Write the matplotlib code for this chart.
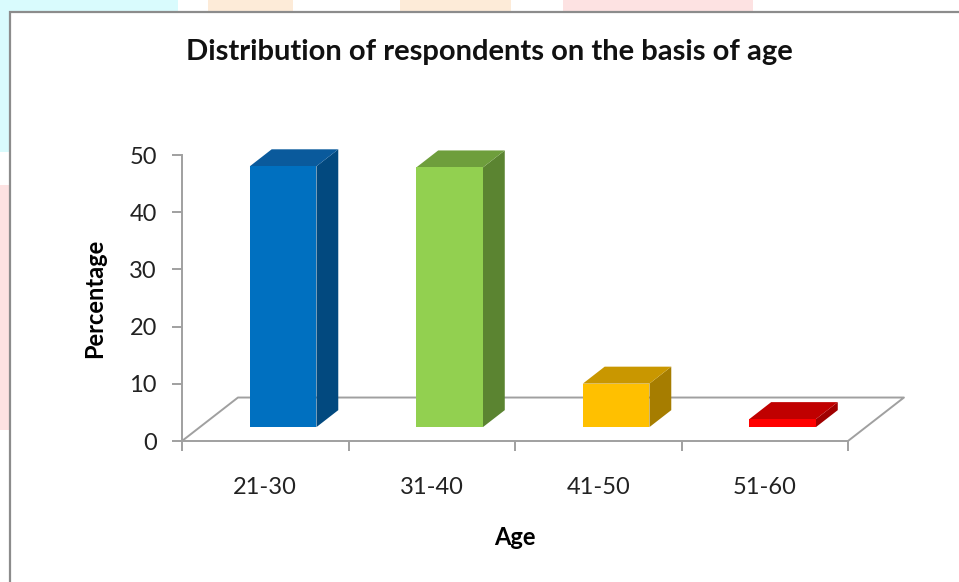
import matplotlib.pyplot as plt
from matplotlib.patches import Polygon, Rectangle

# Age groups and share of respondents (%)
age_groups = ['21-30', '31-40', '41-50', '51-60']
percent = [45.6, 45.4, 7.6, 1.4]

# face colours: front, top, side
front_colors = ['#0070c0', '#92d050', '#ffc000', '#ff0000']
top_colors = ['#0a5a9c', '#6e9e3c', '#c99700', '#c00000']
side_colors = ['#02497f', '#5b8431', '#a67d00', '#a00000']

plt.rcParams['font.family'] = ['Lato', 'DejaVu Sans']

fig = plt.figure(figsize=(9.59, 5.82), dpi=100)
W, H = 959, 582

# faint backdrop blocks round the chart frame
for x0, y0, w, h, c in [(0, 0, 178, 12, '#d9fbfd'), (208, 0, 85, 12, '#fdebd8'),
                        (400, 0, 111, 12, '#fdebd8'), (563, 0, 190, 12, '#fde2e2'),
                        (0, 12, 10, 140, '#d9fbfd'), (0, 185, 10, 245, '#fde2e2')]:
    fig.patches.append(Rectangle((x0 / W, 1 - (y0 + h) / H), w / W, h / H,
                                 transform=fig.transFigure, color=c, lw=0, zorder=0))
# chart frame
fig.patches.append(Rectangle((10 / W, -0.1), 1.1, 1.1 - 12 / H, transform=fig.transFigure,
                             fill=False, ec='#8c8c8c', lw=1.6, zorder=1))

ax = fig.add_axes([182 / W, 141 / H, 666 / W, 286 / H])
ax.set_xlim(0, 4)
ax.set_ylim(0, 50)
ax.patch.set_alpha(0)

# oblique depth of the floor, in data units
ddx, ddy = 0.336, 7.6
d_front, d_back = 0.32, 0.71
bar_w = 0.4

floor_kw = dict(color='#a0a0a0', lw=1.4, clip_on=False, zorder=1)
ax.plot([0, ddx, 4 + ddx, 4], [0, ddy, ddy, 0], **floor_kw)

for i, v in enumerate(percent):
    x0 = i + 0.5 - bar_w / 2 + d_front * ddx
    y0 = d_front * ddy
    ox = (d_back - d_front) * ddx
    oy = (d_back - d_front) * ddy
    front = [(x0, y0), (x0 + bar_w, y0), (x0 + bar_w, y0 + v), (x0, y0 + v)]
    top = [(x0, y0 + v), (x0 + bar_w, y0 + v), (x0 + bar_w + ox, y0 + v + oy), (x0 + ox, y0 + v + oy)]
    side = [(x0 + bar_w, y0), (x0 + bar_w + ox, y0 + oy), (x0 + bar_w + ox, y0 + v + oy), (x0 + bar_w, y0 + v)]
    for pts, c in [(side, side_colors[i]), (top, top_colors[i]), (front, front_colors[i])]:
        ax.add_patch(Polygon(pts, closed=True, fc=c, ec='none', clip_on=False, zorder=3))

for s in ['top', 'right']:
    ax.spines[s].set_visible(False)
for s in ['left', 'bottom']:
    ax.spines[s].set_color('#a0a0a0')
    ax.spines[s].set_linewidth(1.4)
    ax.spines[s].set_zorder(4)

ax.set_yticks(range(0, 51, 10))
ax.set_xticks(range(5))
ax.set_xticklabels([])
ax.set_xticks([i + 0.5 for i in range(4)], minor=True)
ax.set_xticklabels(age_groups, minor=True)
ax.tick_params(axis='both', which='major', color='#a0a0a0', width=1.4, length=7,
               labelsize=17, labelcolor='#222222')
ax.tick_params(axis='y', pad=11)
ax.tick_params(axis='x', which='minor', length=0, pad=26, labelsize=17, labelcolor='#222222')

ax.set_ylabel('Percentage', fontsize=17, fontweight='bold', labelpad=17)
ax.set_xlabel('Age', fontsize=17, fontweight='bold', labelpad=20)
fig.text(489 / W, 1 - 52 / H, 'Distribution of respondents on the basis of age',
         ha='center', va='center', fontsize=21, fontweight='bold', color='#111111')

fig.savefig('out.png', dpi=100)
